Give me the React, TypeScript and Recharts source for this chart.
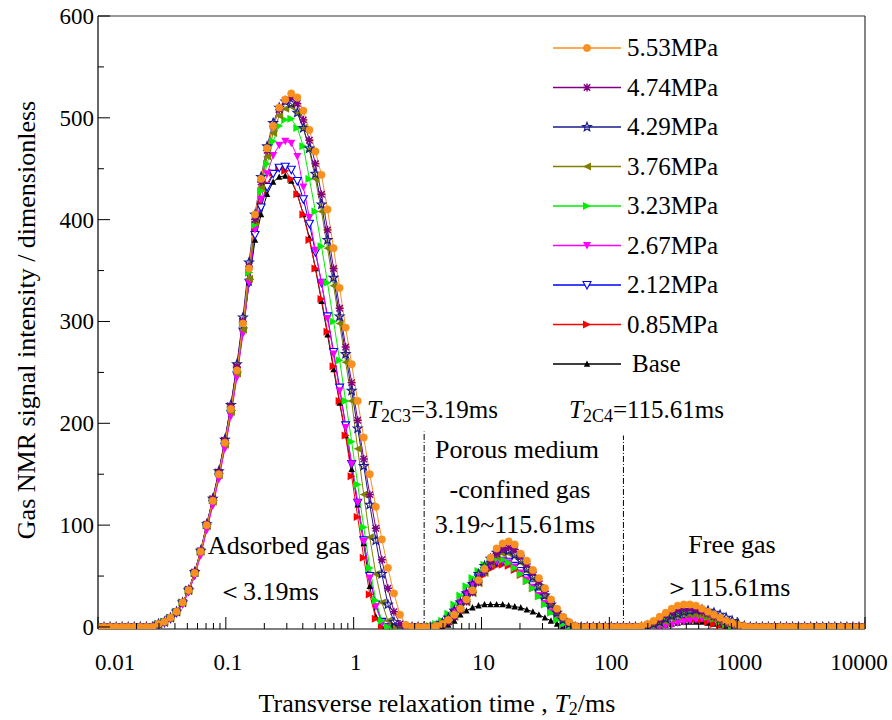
import React from 'react';
import { LineChart, Line, XAxis, YAxis, ReferenceLine } from 'recharts';

// T2 grid of the instrument (128 log-spaced points, ms)
const t2 = [
  0.01, 0.01115, 0.01243, 0.01386, 0.01545, 0.01723, 0.01921, 0.02142, 0.02389, 0.02663,
  0.02969, 0.03311, 0.03691, 0.04116, 0.04589, 0.05116, 0.05705, 0.0636, 0.07092, 0.07907,
  0.08816, 0.09829, 0.1095, 0.1221, 0.1361, 0.1518, 0.1692, 0.1887, 0.2103, 0.2345,
  0.2615, 0.2916, 0.3251, 0.3624, 0.4041, 0.4506, 0.5024, 0.5601, 0.6245, 0.6963,
  0.7764, 0.8656, 0.9644, 1.075, 1.199, 1.337, 1.49, 1.662, 1.853, 2.066,
  2.303, 2.568, 2.863, 3.19, 3.559, 3.968, 4.425, 4.933, 5.5, 6.133,
  6.838, 7.624, 8.5, 9.477, 10.56, 11.77, 13.13, 14.64, 16.32, 18.2,
  20.29, 22.62, 25.22, 28.12, 31.35, 34.96, 38.98, 43.46, 48.45, 54.02,
  60.23, 67.16, 74.88, 83.49, 93.08, 103.7, 115.61, 128.9, 143.7, 160.2,
  178.7, 199.2, 222.1, 247.6, 276.1, 307.8, 343.2, 382.6, 426.6, 475.7,
  530.3, 591.3, 659.3, 735.0, 819.5, 913.7, 1019, 1136, 1266, 1412,
  1574, 1755, 1957, 2182, 2433, 2712, 3024, 3372, 3759, 4191,
  4673, 5210, 5809, 6477, 7222, 8052, 8977, 10000,
];

// flat zero stretches of the spectra
const head = [0, 0, 0, 0, 0, 0, 0, 0, 0, 0];
const gap = [0, 0, 0, 0, 0, 0, 0, 0];
const tail = [0, 0, 0, 0, 0, 0, 0, 0, 0, 0, 0, 0, 0, 0, 0, 0, 0];

const s553 = [
  ...head,
  3, 5, 9, 15, 24, 36, 53, 74, 100, 124, 150, 181, 214, 252, 298, 352,
  405, 440, 470, 492, 510, 518, 524, 520, 507, 488, 467, 444, 410, 372, 333, 294, 258, 222, 186, 150, 118, 86, 58, 33, 12, 2, 0,
  0, 0, 0, 1, 3, 7, 12, 18, 27, 36, 46, 57, 68, 77, 82, 84, 81, 72, 65, 56, 48, 38, 27, 18, 10, 5, 1, 0, 0,
  ...gap,
  1, 3, 6, 10, 14, 18, 21, 22, 22, 21, 18, 15, 12, 9, 6, 4, 2, 1, 0, 0, 0,
  ...tail,
];
const s474 = [
  ...head,
  3, 5, 9, 15, 24, 37, 54, 75, 101, 126, 152, 183, 216, 255, 300, 354,
  400, 437, 468, 492, 508, 517, 520, 514, 498, 478, 455, 425, 390, 352, 313, 275, 240, 203, 165, 130, 97, 66, 38, 15, 3, 0, 0,
  0, 0, 0, 0, 2, 5, 10, 17, 25, 34, 44, 55, 64, 72, 77, 78, 76, 70, 62, 54, 45, 35, 25, 16, 9, 4, 1, 0, 0,
  ...gap,
  0, 2, 4, 7, 11, 14, 17, 18, 18, 17, 15, 13, 10, 7, 5, 3, 1, 0, 0, 0, 0,
  ...tail,
];
const s429 = [
  ...head,
  3, 5, 9, 15, 24, 36, 54, 75, 101, 126, 153, 184, 218, 258, 304, 358,
  405, 442, 472, 495, 510, 516, 514, 505, 490, 470, 445, 415, 380, 343, 305, 268, 232, 195, 158, 120, 85, 52, 22, 5, 0, 0, 0,
  0, 0, 0, 1, 4, 9, 16, 24, 33, 42, 52, 60, 67, 73, 76, 75, 71, 65, 57, 49, 40, 31, 22, 14, 7, 3, 0, 0, 0,
  ...gap,
  0, 1, 3, 5, 8, 11, 13, 15, 16, 17, 17, 16, 14, 12, 9, 6, 3, 1, 0, 0, 0,
  ...tail,
];
const s376 = [
  ...head,
  3, 5, 9, 15, 24, 36, 53, 74, 99, 123, 149, 179, 211, 249, 292, 342,
  398, 432, 462, 485, 502, 509, 511, 505, 490, 468, 440, 408, 372, 335, 298, 260, 222, 175, 130, 88, 52, 24, 6, 0, 0, 0, 0,
  0, 0, 0, 0, 2, 5, 10, 16, 24, 33, 43, 53, 62, 69, 72, 72, 69, 63, 55, 47, 38, 29, 20, 12, 6, 2, 0, 0, 0,
  ...gap,
  0, 0, 1, 3, 5, 8, 10, 12, 12, 12, 11, 9, 7, 5, 3, 1, 0, 0, 0, 0, 0,
  ...tail,
];
const s323 = [
  ...head,
  3, 5, 9, 15, 24, 36, 53, 74, 100, 125, 151, 182, 215, 254, 298, 348,
  395, 428, 455, 477, 492, 498, 499, 490, 472, 440, 408, 374, 338, 300, 262, 222, 182, 140, 98, 58, 26, 6, 0, 0, 0, 0, 0,
  0, 0, 1, 3, 6, 13, 22, 31, 40, 48, 55, 61, 65, 67, 66, 63, 58, 52, 45, 38, 30, 22, 14, 7, 3, 0, 0, 0, 0,
  ...gap,
  0, 0, 1, 3, 6, 9, 11, 13, 13, 13, 12, 10, 8, 5, 3, 1, 0, 0, 0, 0, 0,
  ...tail,
];
const s267 = [
  ...head,
  2, 4, 8, 14, 22, 34, 50, 70, 95, 119, 145, 175, 207, 245, 288, 338,
  390, 420, 445, 463, 473, 477, 475, 462, 432, 402, 370, 338, 303, 268, 232, 196, 160, 122, 84, 48, 20, 4, 0, 0, 0, 0, 0,
  0, 0, 0, 1, 4, 9, 16, 24, 33, 42, 50, 57, 62, 65, 65, 63, 59, 53, 46, 39, 31, 23, 15, 8, 3, 0, 0, 0, 0,
  ...gap,
  0, 0, 0, 0, 1, 2, 4, 5, 6, 7, 8, 8, 8, 7, 5, 3, 1, 0, 0, 0, 0,
  ...tail,
];
const s212 = [
  ...head,
  2, 4, 8, 14, 23, 35, 51, 72, 97, 121, 147, 177, 209, 247, 290, 338,
  385, 412, 432, 445, 451, 452, 449, 438, 420, 396, 368, 338, 305, 270, 235, 198, 160, 122, 85, 50, 22, 5, 0, 0, 0, 0, 0,
  0, 0, 0, 1, 3, 8, 14, 22, 31, 40, 48, 55, 61, 64, 65, 64, 60, 55, 48, 41, 33, 25, 17, 10, 4, 1, 0, 0, 0,
  ...gap,
  0, 0, 1, 2, 4, 7, 10, 12, 13, 13, 12, 11, 9, 6, 4, 2, 0, 0, 0, 0, 0,
  ...tail,
];
const s085 = [
  ...head,
  3, 5, 9, 15, 24, 36, 53, 74, 100, 125, 152, 183, 217, 256, 300, 348,
  388, 415, 435, 446, 450, 448, 440, 425, 405, 380, 352, 322, 290, 256, 222, 188, 148, 108, 68, 32, 8, 0, 0, 0, 0, 0, 0,
  0, 0, 0, 0, 2, 6, 12, 19, 27, 36, 44, 51, 57, 60, 61, 60, 56, 51, 45, 38, 31, 23, 15, 8, 3, 0, 0, 0, 0,
  ...gap,
  0, 0, 0, 2, 4, 6, 8, 9, 9, 8, 7, 5, 3, 2, 1, 0, 0, 0, 0, 0, 0,
  ...tail,
];
const sBase = [
  ...head,
  3, 5, 9, 15, 24, 36, 53, 74, 100, 124, 150, 180, 212, 250, 292, 338,
  380, 405, 425, 437, 442, 443, 438, 425, 405, 382, 352, 320, 287, 253, 220, 188, 155, 120, 82, 40, 10, 0, 0, 0, 0, 0, 0,
  0, 0, 0, 0, 0, 2, 6, 12, 16, 19, 21, 22, 22, 22, 22, 21, 20, 19, 17, 15, 12, 9, 6, 3, 1, 0, 0, 0, 0,
  ...gap,
  0, 0, 0, 1, 2, 3, 4, 5, 5, 5, 5, 4, 3, 2, 1, 0, 0, 0, 0, 0, 0,
  ...tail,
];

// drawn bottom to top; legend lists them the other way round
const SERIES = [
  { key: 'base', name: 'Base', values: sBase, color: '#000000', marker: 'up' },
  { key: 's085', name: '0.85MPa', values: s085, color: '#FF0000', marker: 'right' },
  { key: 's212', name: '2.12MPa', values: s212, color: '#0000FF', marker: 'downOpen' },
  { key: 's267', name: '2.67MPa', values: s267, color: '#FF00FF', marker: 'down' },
  { key: 's323', name: '3.23MPa', values: s323, color: '#00EE00', marker: 'right' },
  { key: 's376', name: '3.76MPa', values: s376, color: '#808000', marker: 'left' },
  { key: 's429', name: '4.29MPa', values: s429, color: '#1A1A8C', marker: 'star' },
  { key: 's474', name: '4.74MPa', values: s474, color: '#800080', marker: 'asterisk' },
  { key: 's553', name: '5.53MPa', values: s553, color: '#F7901E', marker: 'circle' },
];

const DECADES = [0.01, 0.1, 1, 10, 100, 1000, 10000];
const X_LABELS = ['0.01', '0.1', '1', '10', '100', '1000', '10000'];
const MINOR_STEPS = [2, 3, 4, 5, 6, 7, 8, 9];
const Y_TICKS = [0, 50, 100, 150, 200, 250, 300, 350, 400, 450, 500, 550, 600];

// cut-off lines as they sit in the figure
const CUT_C3 = 3.559;
const CUT_C4 = 128.9;

const FONT = '"Liberation Serif", "Times New Roman", serif';

const rows = t2.map((t, i) => {
  const r: Record<string, number> = { t };
  SERIES.forEach((s) => {
    r[s.key] = s.values[i];
  });
  return r;
});

const xTicks = DECADES.flatMap((d, k) =>
  k < DECADES.length - 1 ? [d, ...MINOR_STEPS.map((m) => +(d * m).toPrecision(3))] : [d]
);

function Marker({ shape, color, cx, cy }: { shape: string; color: string; cx: number; cy: number }) {
  const s = 4;
  switch (shape) {
    case 'circle':
      return <circle cx={cx} cy={cy} r={3.7} fill={color} stroke={color} strokeWidth={0.5} />;
    case 'asterisk':
      return (
        <path
          d={`M${cx - 3.2},${cy - 3.2}L${cx + 3.2},${cy + 3.2}M${cx - 3.2},${cy + 3.2}L${cx + 3.2},${cy - 3.2}M${cx - 4},${cy}L${cx + 4},${cy}M${cx},${cy - 4}L${cx},${cy + 4}`}
          stroke={color}
          strokeWidth={1.4}
          fill="none"
        />
      );
    case 'star': {
      const pts: string[] = [];
      for (let k = 0; k < 10; k++) {
        const r = k % 2 === 0 ? 4.6 : 2;
        const a = -Math.PI / 2 + (k * Math.PI) / 5;
        pts.push(`${cx + r * Math.cos(a)},${cy + r * Math.sin(a)}`);
      }
      return <polygon points={pts.join(' ')} fill="none" stroke={color} strokeWidth={1.2} />;
    }
    case 'left':
      return <polygon points={`${cx - s},${cy} ${cx + s},${cy - s} ${cx + s},${cy + s}`} fill={color} />;
    case 'right':
      return <polygon points={`${cx + s},${cy} ${cx - s},${cy - s} ${cx - s},${cy + s}`} fill={color} />;
    case 'down':
      return <polygon points={`${cx},${cy + s} ${cx - s},${cy - s + 0.5} ${cx + s},${cy - s + 0.5}`} fill={color} />;
    case 'downOpen':
      return (
        <polygon
          points={`${cx},${cy + s} ${cx - s},${cy - s + 0.5} ${cx + s},${cy - s + 0.5}`}
          fill="#fff"
          stroke={color}
          strokeWidth={1.1}
        />
      );
    case 'up':
      return <polygon points={`${cx},${cy - 3.5} ${cx - 3.2},${cy + 2.8} ${cx + 3.2},${cy + 2.8}`} fill={color} />;
    default:
      return null;
  }
}

const XTick = (props: any) => {
  const { x, y, payload } = props;
  const v = payload.value;
  const k = DECADES.findIndex((d) => Math.abs(v / d - 1) < 1e-6);
  const major = k >= 0;
  let dx = 2;
  if (k === 0) dx = 17;
  if (k === DECADES.length - 1) dx = -6;
  return (
    <g>
      <line x1={x} y1={y} x2={x} y2={y - (major ? 12 : 6)} stroke="#000" strokeWidth={1} />
      {major && (
        <text x={x + dx} y={y + 41} textAnchor="middle" fontFamily={FONT} fontSize={23} fill="#000">
          {X_LABELS[k]}
        </text>
      )}
    </g>
  );
};

const YTick = (props: any) => {
  const { x, y, payload } = props;
  const v = payload.value;
  const major = v % 100 === 0;
  return (
    <g>
      <line x1={x} y1={y} x2={x + (major ? 12 : 6)} y2={y} stroke="#000" strokeWidth={1} />
      {major && (
        <text x={x - 4} y={y + 8} textAnchor="end" fontFamily={FONT} fontSize={23} fill="#000">
          {v}
        </text>
      )}
    </g>
  );
};

const LEGEND_TOP = 48;
const LEGEND_STEP = 39.5;

const Overlay = () => {
  const legend = [...SERIES].reverse();
  return (
    <svg
      width={892}
      height={720}
      style={{ position: 'absolute', left: 0, top: 0, pointerEvents: 'none' }}
      fontFamily={FONT}
    >
      {legend.map((s, k) => {
        const y = LEGEND_TOP + k * LEGEND_STEP;
        return (
          <g key={s.key}>
            <line x1={553} x2={621} y1={y} y2={y} stroke={s.color} strokeWidth={1.4} />
            <Marker shape={s.marker} color={s.color} cx={587} cy={y} />
            <text x={s.key === 'base' ? 632 : 627} y={y + 8} fontSize={25} fill="#000">
              {s.name}
            </text>
          </g>
        );
      })}

      <text x={367} y={418} fontSize={25} fill="#000">
        <tspan fontStyle="italic">T</tspan>
        <tspan fontSize={18} dy={4}>2C3</tspan>
        <tspan dy={-4}>=3.19ms</tspan>
      </text>
      <text x={569} y={418} fontSize={25} fill="#000">
        <tspan fontStyle="italic">T</tspan>
        <tspan fontSize={18} dy={4}>2C4</tspan>
        <tspan dy={-4}>=115.61ms</tspan>
      </text>

      <text x={517} y={458} fontSize={26} textAnchor="middle" fill="#000">Porous medium</text>
      <text x={520} y={498} fontSize={26} textAnchor="middle" fill="#000">-confined gas</text>
      <text x={515} y={533} fontSize={26} textAnchor="middle" fill="#000">3.19~115.61ms</text>

      <text x={279} y={554} fontSize={26} textAnchor="middle" fill="#000">Adsorbed gas</text>
      <text x={268} y={600} fontSize={26} textAnchor="middle" fill="#000">＜3.19ms</text>

      <text x={732} y={553} fontSize={26} textAnchor="middle" fill="#000">Free gas</text>
      <text x={727} y={596} fontSize={26} textAnchor="middle" fill="#000">＞115.61ms</text>

      <text x={437} y={712} fontSize={26} textAnchor="middle" fill="#000">
        Transverse relaxation time , <tspan fontStyle="italic">T</tspan>
        <tspan fontSize={18} dy={3}>2</tspan>
        <tspan dy={-3}>/ms</tspan>
      </text>
      <text
        x={0}
        y={0}
        fontSize={26}
        textAnchor="middle"
        fill="#000"
        transform="translate(35,320) rotate(-90)"
      >
        Gas NMR signal intensity / dimensionless
      </text>
    </svg>
  );
};

export default function App() {
  return (
    <div style={{ position: 'absolute', left: 0, top: 0, width: 892, height: 720, background: '#fff' }}>
      <LineChart width={892} height={720} data={rows} margin={{ top: 16, right: 27, bottom: 0, left: 0 }}>
        <XAxis
          dataKey="t"
          type="number"
          scale="log"
          domain={[0.01, 10000]}
          allowDataOverflow
          ticks={xTicks}
          interval={0}
          tick={<XTick />}
          tickLine={false}
          tickSize={0}
          tickMargin={0}
          height={91}
          axisLine={{ stroke: '#000', strokeWidth: 1.2 }}
        />
        <YAxis
          type="number"
          domain={[-2, 600]}
          allowDataOverflow
          ticks={Y_TICKS}
          interval={0}
          tick={<YTick />}
          tickLine={false}
          tickSize={0}
          tickMargin={0}
          width={98}
          axisLine={{ stroke: '#000', strokeWidth: 1.2 }}
        />
        <ReferenceLine y={600} stroke="#333" strokeWidth={1.2} />
        <ReferenceLine x={10000} stroke="#333" strokeWidth={1.2} />
        <ReferenceLine
          segment={[{ x: CUT_C3, y: 0 }, { x: CUT_C3, y: 192 }]}
          stroke="#000"
          strokeDasharray="6 2 1 2"
        />
        <ReferenceLine
          segment={[{ x: CUT_C4, y: 0 }, { x: CUT_C4, y: 188 }]}
          stroke="#000"
          strokeDasharray="6 2 1 2"
        />
        {SERIES.map((s) => (
          <Line
            key={s.key}
            dataKey={s.key}
            name={s.name}
            type="linear"
            stroke={s.color}
            strokeWidth={1}
            isAnimationActive={false}
            activeDot={false}
            dot={(p: any) => (
              <Marker key={`${s.key}-${p.index}`} shape={s.marker} color={s.color} cx={p.cx} cy={p.cy} />
            )}
          />
        ))}
      </LineChart>
      <Overlay />
    </div>
  );
}
